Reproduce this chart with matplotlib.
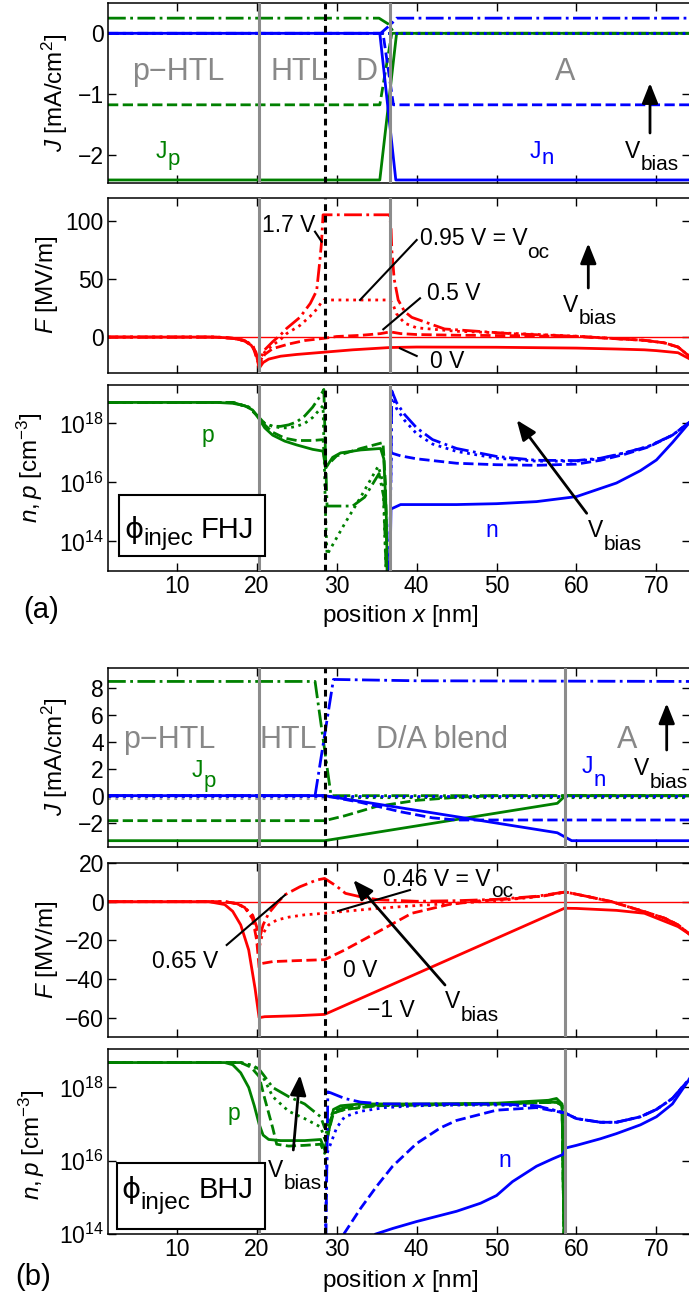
import numpy as np
import matplotlib
matplotlib.use("Agg")
import matplotlib.pyplot as plt
from matplotlib.patches import FancyArrowPatch, Rectangle
from matplotlib.lines import Line2D

W, H = 689, 1293

plt.rcParams["font.family"] = ["Liberation Sans", "DejaVu Sans"]
plt.rcParams["mathtext.fontset"] = "custom"
plt.rcParams["mathtext.rm"] = "Liberation Sans"
plt.rcParams["mathtext.it"] = "Liberation Sans:italic"
plt.rcParams["mathtext.bf"] = "Liberation Sans:bold"
plt.rcParams["font.size"] = 16.5

GREEN, BLUE, RED, GRAY = "#008000", "#0000ff", "#ff0000", "#8c8c8c"
LS = ["-", "--", ":", "-."]          # one style per bias voltage (low -> high)
DRAW_ORDER = [2, 1, 3, 0]

X_TICKS = [10, 20, 30, 40, 50, 60, 70]
INJEC_X = 28.5
A_INTERFACES = [20.3, 36.7]
B_INTERFACES = [20.3, 58.6]

# ---------------- (a) FHJ, bias 0 V, 0.5 V, 0.95 V, 1.7 V ----------------
ja_p_x = [[1.4, 35.4, 37.5, 74.2],
          [1.4, 35.4, 36.9, 74.2],
          [1.4, 74.2],
          [1.4, 35.3, 36.5, 37.2, 74.2]]
ja_p_y = [[-2.42, -2.42, 0, 0],
          [-1.18, -1.18, 0, 0],
          [0, 0],
          [0.25, 0.25, 0.15, 0, 0]]
ja_n_x = [[1.4, 35.4, 37.4, 74.2],
          [1.4, 35.8, 37.1, 74.2],
          [1.4, 74.2],
          [1.4, 35.5, 36.8, 37.5, 74.2]]
ja_n_y = [[0, 0, -2.42, -2.42],
          [0, 0, -1.18, -1.18],
          [0, 0],
          [0, 0, 0.15, 0.25, 0.25]]

fa_x = [[1.4, 14, 16, 17.5, 18.5, 19.3, 19.9, 20.3, 20.8, 21.5, 23, 25, 28.5, 32,
         36.7, 40, 50, 60, 65, 68.5, 70, 72.7, 74.2],
        [1.4, 15, 17, 18.5, 19.5, 20.3, 21, 22, 24, 26, 28.5, 30, 33, 35.5, 36.7,
         38, 40, 45, 52, 60, 68.5, 71, 72.7, 74.2],
        [1.4, 15, 17, 18.5, 19.5, 20.3, 21, 22, 23, 23.75, 25.4, 26.7, 27.5, 28.1,
         28.4, 36.6, 37.0, 37.5, 38.5, 40, 45, 52, 60, 68.5, 71, 72.7, 74.2],
        [1.4, 15, 17, 18.5, 19.5, 20.3, 21, 22, 23, 23.75, 25.4, 26.7, 27.5, 27.9,
         28.1, 28.3, 36.6, 36.8, 36.9, 37.2, 37.7, 38.5, 39.4, 43.5, 51.9, 60.2,
         68.5, 71, 72.7, 74.2]]
fa_y = [[0, 0, -0.5, -1.5, -3.5, -7, -13, -27, -22, -19, -16.5, -15, -13, -11,
         -9, -8.6, -8.8, -9.5, -10.3, -11, -11.7, -13.5, -19],
        [0, 0, -1, -3, -8, -24, -15, -10, -6, -3, -1, 0.5, 1.5, 3, 4.5,
         3, 2.2, 1.6, 1.2, 0.5, -2.8, -5, -8.6, -17],
        [0, 0, -1, -3, -8, -23, -13, -7, -2, 3, 10, 18, 24, 30,
         32, 32, 29, 20, 12, 8, 5, 3.2, 0.8, -2.8, -5, -8.6, -17],
        [0, 0, -1, -3, -7, -21, -11, -4, 2, 7.5, 17, 29, 40, 66,
         81, 105.5, 105.5, 95, 75, 50, 32, 22, 17, 7, 2.9, 0.6,
         -2.8, -5, -8.6, -17]]

# log10 of densities [cm^-3]
na_p_x = [[1.4, 15, 17, 18.5, 19.5, 20.3, 21, 22, 23.5, 25, 27, 28.3, 28.6, 28.9,
           29.5, 30.5, 33, 35.5, 35.9, 36.2, 36.4],
          [1.4, 17, 19, 20.3, 21, 22, 23.5, 25, 27, 28.3, 28.6, 28.9, 30, 33,
           35.8, 36.1, 36.4],
          [1.4, 17, 19, 20.3, 21, 22, 23, 24, 25, 26, 27, 28.3, 28.6, 28.8,
           31, 33, 35.2, 35.8, 36.3],
          [1.4, 17, 19, 20.3, 21, 22, 23, 24, 25, 26, 27, 28.0, 28.4, 28.6,
           28.8, 32, 33.5, 35.3, 35.9, 36.3]]
na_p_lg = [[18.71, 18.71, 18.68, 18.6, 18.45, 18.15, 17.85, 17.6, 17.4, 17.27, 17.12,
            17.06, 16.5, 16.6, 16.85, 17.0, 17.1, 17.15, 16.8, 15.0, 12.0],
           [18.71, 18.71, 18.55, 18.2, 17.95, 17.7, 17.5, 17.42, 17.42, 17.45, 16.5,
            16.6, 16.9, 17.15, 17.35, 16.0, 12.0],
           [18.71, 18.71, 18.55, 18.2, 18.0, 17.9, 17.85, 17.85, 17.9, 18.0, 18.2,
            18.6, 15.0, 13.55, 14.6, 15.5, 16.55, 16.0, 12.0],
           [18.71, 18.71, 18.55, 18.2, 18.0, 17.9, 17.9, 17.95, 18.05, 18.25, 18.55,
            18.95, 19.15, 17.0, 15.2, 15.2, 15.5, 16.3, 15.5, 12.0]]
na_n_x = [[36.6, 36.8, 38, 45, 50, 55, 60, 65, 68, 70, 72, 74.2],
          [36.6, 36.8, 38, 40, 45, 50, 55, 60, 63, 66, 69, 72, 74.2],
          [36.6, 36.9, 37.5, 38.5, 40, 42, 45, 50, 55, 60, 63, 66, 69, 72, 74.2],
          [36.6, 36.9, 37.5, 38.5, 40, 42, 45, 50, 55, 60, 63, 66, 69, 72, 74.2]]
na_n_lg = [[12.0, 15.1, 15.25, 15.25, 15.28, 15.35, 15.52, 15.98, 16.4, 16.76, 17.35,
            18.05],
           [12.0, 17.0, 16.9, 16.8, 16.65, 16.6, 16.58, 16.62, 16.75, 16.95, 17.2,
            17.6, 18.05],
           [12.0, 19.0, 18.5, 18.1, 17.65, 17.3, 17.05, 16.82, 16.72, 16.72, 16.8,
            17.0, 17.22, 17.6, 18.05],
           [12.0, 19.1, 18.7, 18.3, 17.85, 17.45, 17.15, 16.88, 16.75, 16.74, 16.82,
            17.0, 17.22, 17.6, 18.05]]

# ---------------- (b) BHJ, bias -1 V, 0 V, 0.46 V, 0.65 V ----------------
jb_p_x = [[1.4, 28.5, 57.6, 58.6, 74.2],
          [1.4, 28.5, 31, 35, 40, 45, 50, 74.2],
          [1.4, 28.5, 30, 74.2],
          [1.4, 27.3, 29.3, 74.2]]
jb_p_y = [[-3.35, -3.35, -0.57, 0, 0],
          [-1.86, -1.86, -1.5, -0.8, -0.35, -0.12, 0, 0],
          [0, 0, -0.15, -0.15],
          [8.5, 8.5, 0, 0]]
jb_n_x = [[1.4, 28.5, 57.6, 59.4, 74.2],
          [1.4, 28.5, 33, 38, 42, 45, 74.2],
          [1.4, 74.2],
          [1.4, 27.3, 29.6, 40, 74.2]]
jb_n_y = [[0, 0, -2.76, -3.35, -3.35],
          [0, 0, -0.5, -1.2, -1.65, -1.81, -1.81],
          [0, 0],
          [0, 0, 8.65, 8.55, 8.5]]
jb_tot_x = [1.4, 28.0, 30.0]
jb_tot_y = [-0.22, -0.22, 0]

fb_x = [[1.4, 14, 16, 17, 18, 19, 19.8, 20.3, 21, 25, 28.5, 35, 45, 55, 58.5, 60,
         65, 68.5, 72.7, 74.2],
        [1.4, 16, 17.5, 18.5, 19.5, 20.0, 20.3, 20.6, 22, 25, 28.5, 31, 35, 39.4,
         44, 48, 52, 56, 58.6, 61, 64.4, 68.5, 71, 72.7, 74.2],
        [1.4, 16, 17.5, 18.5, 19.5, 20.0, 20.3, 20.7, 21.5, 22.5, 24, 26, 28.5, 31,
         35, 40, 45, 50, 55, 58.6, 61, 64.4, 68.5, 71, 72.7, 74.2],
        [1.4, 16, 17.5, 18.5, 19.5, 20.0, 20.3, 20.8, 21.5, 22.5, 23.5, 25.4, 27.5,
         28.5, 30, 31.1, 33, 35.2, 40, 45, 50, 55, 58.6, 61, 64.4, 68.5, 71, 72.7,
         74.2]]
fb_y = [[0, 0, -1.5, -5, -12, -25, -45, -60, -59.5, -59, -58.3, -46.4, -28.1, -9.8,
         -3.4, -3.5, -4.5, -6, -12.9, -17],
        [0, 0, -1, -3, -9, -20, -34, -32, -31, -30.5, -30, -25, -16, -6,
         -1.5, 0.5, 1.5, 3, 5, 3, 0, -5.2, -8.5, -12, -17],
        [0, 0, -1, -3, -8, -16, -24, -17, -12, -9.5, -8, -6.8, -6, -5,
         -3.5, -2, -0.8, 0.5, 2.5, 5, 3, 0, -5.2, -8.5, -12, -17],
        [0, 0, -1, -3, -7, -13, -20, -12, -6, -1, 3.5, 7.7, 11.2,
         12, 8, 4.3, 2.5, 1, 0.2, 0.5, 1.2, 2.8, 5, 3, 0, -5.2, -8.5, -12,
         -17]]

nb_p_x = [[1.4, 16, 17, 18, 19, 19.7, 20.3, 20.8, 21.5, 23, 26, 28, 28.5, 29, 29.6,
           30.5, 33, 40, 50, 56.5, 57.5, 58.2, 58.5],
          [1.4, 18, 19.3, 20.3, 21, 22, 22.5, 24, 26, 28, 28.5, 29, 29.6, 31, 35,
           50, 57.5, 58.2, 58.5],
          [1.4, 18, 19.5, 20.3, 21, 22, 24, 26, 28, 28.5, 29, 29.6, 31, 35, 50,
           57.5, 58.2, 58.5],
          [1.4, 18, 19.5, 20.3, 21, 22, 24, 26, 28, 28.5, 29, 29.6, 31, 35, 50,
           57.5, 58.2, 58.5]]
nb_p_lg = [[18.68, 18.68, 18.62, 18.4, 18.0, 17.5, 17.0, 16.7, 16.58, 16.55, 16.55,
            16.58, 16.3, 16.8, 17.4, 17.5, 17.55, 17.55, 17.57, 17.65, 17.7, 17.55,
            13.0],
           [18.68, 18.68, 18.55, 18.3, 17.7, 16.9, 16.45, 16.4, 16.42, 16.45, 16.2,
            16.8, 17.3, 17.4, 17.5, 17.55, 17.6, 17.5, 13.0],
           [18.68, 18.68, 18.6, 18.45, 18.2, 17.75, 17.35, 17.15, 16.92, 16.6, 17.0,
            17.3, 17.4, 17.5, 17.55, 17.6, 17.5, 13.0],
           [18.68, 18.68, 18.6, 18.5, 18.3, 18.0, 17.75, 17.55, 17.2, 16.9, 17.1,
            17.35, 17.45, 17.52, 17.55, 17.6, 17.5, 13.0]]
nb_n_x = [[34.9, 37, 40, 45, 48, 50, 52, 55, 57, 58.3, 58.7, 60, 63, 65, 68, 70, 72,
           74.2],
          [30.9, 33, 35, 37, 40, 43, 45, 50, 55, 58.6, 60, 63, 65, 68, 70, 72, 74.2],
          [28.5, 28.8, 30, 31, 33, 36, 40, 45, 50, 55, 58.6, 60, 63, 65, 68, 70, 72,
           74.2],
          [28.6, 28.9, 29.3, 31, 33, 36, 40, 50, 55, 58.6, 60, 63, 65, 68, 70, 72,
           74.2]]
nb_n_lg = [[14.0, 14.15, 14.34, 14.62, 14.84, 15.05, 15.43, 15.85, 16.05, 16.17,
            16.35, 16.42, 16.6, 16.74, 16.98, 17.2, 17.55, 18.25],
           [14.0, 14.7, 15.3, 15.85, 16.47, 16.9, 17.1, 17.38, 17.45, 17.3, 17.15,
            17.05, 17.05, 17.2, 17.4, 17.7, 18.25],
           [13.0, 16.2, 16.9, 17.2, 17.35, 17.45, 17.5, 17.52, 17.52, 17.5, 17.3,
            17.15, 17.05, 17.05, 17.2, 17.4, 17.7, 18.25],
           [13.0, 17.88, 17.85, 17.7, 17.6, 17.55, 17.55, 17.55, 17.5, 17.3, 17.15,
            17.05, 17.05, 17.2, 17.4, 17.7, 18.25]]


fig = plt.figure(figsize=(W / 100, H / 100), dpi=100)
renderer = fig.canvas.get_renderer()


def P(x, y):
    return (x / W, 1 - y / H)


def add_panel(top, bottom):
    return fig.add_axes([108 / W, 1 - bottom / H, 582 / W, (bottom - top) / H])


def style(ax, ylim, yticks, log=False, xlabels=False):
    if log:
        ax.set_yscale("log")
    ax.set_xlim(1.4, 74.2)
    ax.set_ylim(*ylim)
    ax.set_yticks(yticks)
    ax.minorticks_off()
    ax.set_xticks(X_TICKS)
    if not xlabels:
        ax.set_xticklabels([])
    ax.tick_params(direction="in", top=True, right=True, length=6, width=1,
                   labelsize=16.5, pad=3)
    for s in ax.spines.values():
        s.set_linewidth(1.1)


def draw(ax, xs, ys, color, log=False):
    for i in DRAW_ORDER:
        y = 10 ** np.array(ys[i]) if log else ys[i]
        ax.plot(xs[i], y, color=color, ls=LS[i], lw=2)


def layers(ax, interfaces):
    for xv in interfaces:
        ax.axvline(xv, color=GRAY, lw=2.2, zorder=5)
    ax.axvline(INJEC_X, color="k", lw=2.2, ls=(0, (2.2, 1.6)), zorder=6)


def text(x, y, s, **kw):
    kw.setdefault("va", "baseline")
    return fig.text(*P(x, y), s, **kw)


def sub_text(x, y, main, sub, shift, size=16.5, ssize=15, tail="", color="k",
             family=None):
    kw = {"family": family} if family else {}
    t = text(x, y, main, fontsize=size, color=color, **kw)
    w = t.get_window_extent(renderer).width
    s = text(x + w, y + shift, sub, fontsize=ssize, color=color)
    if tail:
        w2 = s.get_window_extent(renderer).width
        text(x + w + w2 + 8, y, tail, fontsize=size, color=color)


def line(x0, y0, x1, y1):
    a, b = P(x0, y0), P(x1, y1)
    fig.add_artist(Line2D([a[0], b[0]], [a[1], b[1]], transform=fig.transFigure,
                          color="k", lw=1.5))


def arrow(x0, y0, x1, y1):
    fig.add_artist(FancyArrowPatch(P(x0, y0), P(x1, y1), transform=fig.transFigure,
                                   arrowstyle="-|>,head_length=0.55,head_width=0.22",
                                   mutation_scale=22, lw=2, color="k",
                                   shrinkA=0, shrinkB=0))


def box(x0, y0, x1, y1):
    fig.add_artist(Rectangle(P(x0, y1), (x1 - x0) / W, (y1 - y0) / H,
                             transform=fig.transFigure, facecolor="w",
                             edgecolor="k", lw=1.5))


def vbias(x, y, shift=12):
    sub_text(x, y, "V", "bias", shift)


# ---------------- panels (a) ----------------
axJa = add_panel(3, 183)
axFa = add_panel(198, 373)
axNa = add_panel(385, 571)

draw(axJa, ja_p_x, ja_p_y, GREEN)
draw(axJa, ja_n_x, ja_n_y, BLUE)
style(axJa, (-2.47, 0.5), [-2, -1, 0])

axFa.axhline(0, color=RED, lw=1)
draw(axFa, fa_x, fa_y, RED)
style(axFa, (-31, 120), [0, 50, 100])

draw(axNa, na_p_x, na_p_lg, GREEN, log=True)
draw(axNa, na_n_x, na_n_lg, BLUE, log=True)
style(axNa, (10 ** 13.0, 10 ** 19.3), [1e14, 1e16, 1e18], log=True, xlabels=True)

for ax in (axJa, axFa, axNa):
    layers(ax, A_INTERFACES)

# ---------------- panels (b) ----------------
axJb = add_panel(668, 847)
axFb = add_panel(863, 1037)
axNb = add_panel(1049, 1234)

axJb.plot(jb_tot_x, jb_tot_y, color="#a0a0a0", ls=":", lw=2)
draw(axJb, jb_p_x, jb_p_y, GREEN)
draw(axJb, jb_n_x, jb_n_y, BLUE)
style(axJb, (-3.82, 9.5), [-2, 0, 2, 4, 6, 8])

axFb.axhline(0, color=RED, lw=1)
draw(axFb, fb_x, fb_y, RED)
style(axFb, (-70, 20), [-60, -40, -20, 0, 20])

draw(axNb, nb_p_x, nb_p_lg, GREEN, log=True)
draw(axNb, nb_n_x, nb_n_lg, BLUE, log=True)
style(axNb, (1e14, 10 ** 19.05), [1e14, 1e16, 1e18], log=True, xlabels=True)

for ax in (axJb, axFb, axNb):
    layers(ax, B_INTERFACES)

# ---------------- axis labels ----------------
for cx, cy, s in [(55, 93, "$J$ [mA/cm$^2$]"), (47, 285, "$F$ [MV/m]"),
                  (30, 468, "$n,p$ [cm$^{-3}$]"),
                  (55, 757, "$J$ [mA/cm$^2$]"), (47, 950, "$F$ [MV/m]"),
                  (32, 1145, "$n,p$ [cm$^{-3}$]")]:
    text(cx, cy, s, rotation=90, ha="center", va="center", fontsize=17.5)

text(400, 622, "position $x$ [nm]", ha="center", fontsize=17.5)
text(400, 1287, "position $x$ [nm]", ha="center", fontsize=17.5)
text(23, 618, "(a)", fontsize=21)
text(15, 1285, "(b)", fontsize=21)

# ---------------- annotations (a) ----------------
for cx, s in [(178, "p\u2212HTL"), (299, "HTL"), (367, "D"), (565, "A")]:
    text(cx, 80, s, ha="center", color="#888888", fontsize=22)
sub_text(156, 158, "J", "p", 7, ssize=16, color=GREEN)
sub_text(530, 158, "J", "n", 6, ssize=16, color=BLUE)
arrow(650, 133, 650, 83)
vbias(625, 158)

text(262, 231.7, "1.7 V")
line(315, 231.7, 321.7, 241.7)
sub_text(420, 245, "0.95 V = V", "oc", 13)
line(416.7, 240, 360, 300)
text(426.7, 300, "0.5 V")
line(420, 298.3, 383.3, 329.3)
text(430, 368, "0 V")
line(416.7, 356, 400, 348.3)
arrow(588.3, 288, 588.3, 243.3)
vbias(563.3, 311.7)

text(202, 441.7, "p", color=GREEN)
text(485, 536.7, "n", color=BLUE)
arrow(586.7, 513.3, 516.7, 420)
vbias(588.3, 536.7, 13)
box(119, 495, 265, 555.7)
sub_text(124, 538.3, "\u03d5", "injec", 7, size=21, ssize=17.5, tail="FHJ",
         family="DejaVu Sans")

# ---------------- annotations (b) ----------------
for cx, s in [(169, "p\u2212HTL"), (288, "HTL"), (442.5, "D/A blend"), (626.7, "A")]:
    text(cx, 748, s, ha="center", color="#888888", fontsize=22)
sub_text(191.7, 776.7, "J", "p", 10, ssize=16, color=GREEN)
sub_text(581.7, 773.3, "J", "n", 13, ssize=16, color=BLUE)
arrow(666.7, 750, 666.7, 703.3)
vbias(634, 775, 13)

text(152, 968.3, "0.65 V")
line(226.7, 945, 285, 895)
sub_text(383.3, 886, "0.46 V = V", "oc", 11)
line(410, 890, 338, 911)
text(343, 976.7, "0 V")
text(366.7, 1016.7, "\u22121 V")
arrow(445, 985, 353.3, 880)
vbias(445, 1008.3, 13)

text(228, 1120, "p", color=GREEN)
text(498, 1166.7, "n", color=BLUE)
arrow(293.3, 1150, 300, 1075)
vbias(268.3, 1176.7)
box(116.7, 1163.3, 265, 1229.3)
sub_text(121, 1198.3, "\u03d5", "injec", 11, size=21, ssize=17.5, tail="BHJ",
         family="DejaVu Sans")

fig.savefig("out.png", dpi=100)
